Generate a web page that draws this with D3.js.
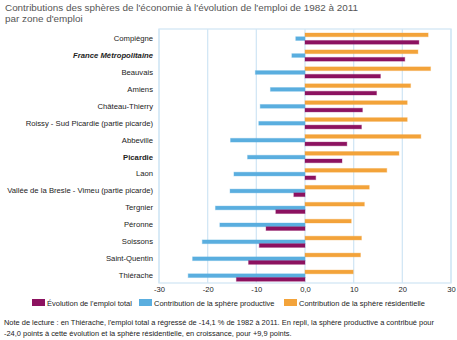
<!DOCTYPE html>
<html lang="fr">
<head>
<meta charset="UTF-8">
<title>Contributions des sphères</title>
<script src="https://d3js.org/d3.v7.min.js"></script>
<style>
    body { margin: 0; background: #fff; }
    svg { font-family: "Liberation Sans", Arial, sans-serif; }
</style>
</head>
<body>
<script>
    // zones d'emploi, de haut en bas
    const zones = ["Compiègne", "France Métropolitaine", "Beauvais", "Amiens", "Château-Thierry",
        "Roissy - Sud Picardie (partie picarde)", "Abbeville", "Picardie", "Laon",
        "Vallée de la Bresle - Vimeu (partie picarde)", "Tergnier", "Péronne", "Soissons",
        "Saint-Quentin", "Thiérache"];
    const emploiTotal = [23.4, 20.5, 15.5, 14.7, 11.8, 11.6, 8.6, 7.6, 2.2, -2.3, -6.0, -8.0, -9.4, -11.6, -14.1];
    const productive = [-1.9, -2.7, -10.2, -7.1, -9.2, -9.5, -15.3, -11.8, -14.6, -15.4, -18.4, -17.5, -21.1, -23.1, -24.0];
    const residentielle = [25.3, 23.2, 25.8, 21.7, 21.0, 21.0, 23.8, 19.3, 16.8, 13.2, 12.2, 9.5, 11.6, 11.4, 9.9];
    const xTicks = [-30, -20, -10, 0, 10, 20, 30];

    const series = [
        { name: "Contribution de la sphère résidentielle", values: residentielle, color: "#f3a33a" },
        { name: "Contribution de la sphère productive", values: productive, color: "#5aaedf" },
        { name: "Évolution de l'emploi total", values: emploiTotal, color: "#8c1260" }
    ];

    const W = 457, H = 340;
    const m = { left: 159, right: 6, top: 29, bottom: 57 };

    const svg = d3.select("body").append("svg")
        .attr("width", W)
        .attr("height", H);

    // titre
    svg.append("text")
        .attr("x", 5).attr("y", 11)
        .attr("font-size", 9.9).attr("fill", "#555")
        .text("Contributions des sphères de l'économie à l'évolution de l'emploi de 1982 à 2011");
    svg.append("text")
        .attr("x", 5).attr("y", 22)
        .attr("font-size", 9.9).attr("fill", "#555")
        .text("par zone d'emploi");

    const x = d3.scaleLinear()
        .domain([-30, 30])
        .range([m.left, W - m.right]);

    const y = d3.scaleBand()
        .domain(zones)
        .range([m.top, H - m.bottom]);

    const inner = d3.scaleBand()
        .domain(series.map(s => s.name))
        .range([4, 15.2]);

    // grille
    svg.append("g")
        .selectAll("line")
        .data(xTicks)
        .enter()
        .append("line")
        .attr("x1", d => x(d)).attr("x2", d => x(d))
        .attr("y1", m.top).attr("y2", H - m.bottom)
        .attr("stroke", "#d3e7f5")
        .attr("stroke-width", 1.3);

    svg.append("rect")
        .attr("x", m.left).attr("y", m.top)
        .attr("width", W - m.right - m.left)
        .attr("height", H - m.bottom - m.top)
        .attr("fill", "none")
        .attr("stroke", "#d3e7f5")
        .attr("stroke-width", 1.3);

    // barres
    series.forEach(s => {
        svg.append("g")
            .selectAll("rect")
            .data(s.values)
            .enter()
            .append("rect")
            .attr("x", d => x(Math.min(0, d)))
            .attr("y", (d, i) => y(zones[i]) + inner(s.name))
            .attr("width", d => Math.abs(x(d) - x(0)))
            .attr("height", inner.bandwidth())
            .attr("fill", s.color)
            .attr("stroke", s.color)
            .attr("stroke-opacity", 0.35)
            .attr("stroke-width", 1);
    });

    // axe des x
    const xAxis = d3.axisBottom(x)
        .tickValues(xTicks)
        .tickSize(0)
        .tickPadding(4)
        .tickFormat(d => d === 0 ? "0,0" : d);

    svg.append("g")
        .attr("transform", "translate(0," + (H - m.bottom) + ")")
        .call(xAxis)
        .call(g => g.select(".domain").remove())
        .selectAll("text")
        .attr("font-size", 7.6)
        .attr("fill", "#222");

    // libellés des zones
    svg.append("g")
        .selectAll("text")
        .data(zones)
        .enter()
        .append("text")
        .attr("x", 153)
        .attr("y", d => y(d) + y.bandwidth() / 2 + 3.5)
        .attr("text-anchor", "end")
        .attr("font-size", 7.7)
        .attr("fill", "#222")
        .attr("font-weight", d => (d === "Picardie" || d === "France Métropolitaine") ? "bold" : "normal")
        .attr("font-style", d => d === "France Métropolitaine" ? "italic" : "normal")
        .text(d => d);

    // légende
    const legend = [
        { name: "Évolution de l'emploi total", color: "#8c1260", x: 32 },
        { name: "Contribution de la sphère productive", color: "#5aaedf", x: 139 },
        { name: "Contribution de la sphère résidentielle", color: "#f3a33a", x: 284 }
    ];
    const lg = svg.append("g").selectAll("g")
        .data(legend)
        .enter()
        .append("g")
        .attr("transform", d => "translate(" + d.x + ",299)");
    lg.append("rect")
        .attr("width", 13).attr("height", 7)
        .attr("fill", d => d.color);
    lg.append("text")
        .attr("x", 15).attr("y", 7)
        .attr("font-size", 7.5)
        .attr("fill", "#222")
        .text(d => d.name);

    // note
    svg.append("text")
        .attr("x", 4).attr("y", 325)
        .attr("font-size", 7.45).attr("fill", "#222")
        .text("Note de lecture : en Thiérache, l'emploi total a régressé de -14,1 % de 1982 à 2011. En repli, la sphère productive a contribué pour");
    svg.append("text")
        .attr("x", 4).attr("y", 335.5)
        .attr("font-size", 7.45).attr("fill", "#222")
        .text("-24,0 points à cette évolution et la sphère résidentielle, en croissance, pour +9,9 points.");
</script>
</body>
</html>
